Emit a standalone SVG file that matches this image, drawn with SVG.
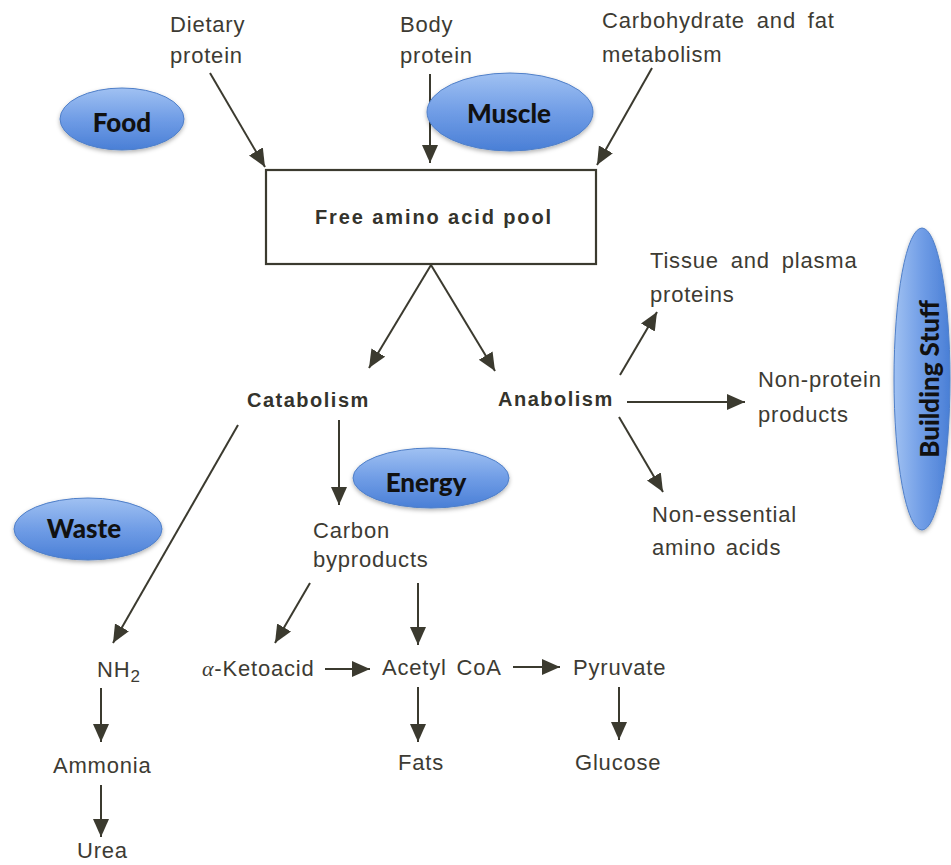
<svg xmlns="http://www.w3.org/2000/svg" width="951" height="865" viewBox="0 0 951 865">
<defs>
  <linearGradient id="gv" x1="0" y1="0" x2="0" y2="1">
    <stop offset="0" stop-color="#a0c1f2"/>
    <stop offset="0.5" stop-color="#709de6"/>
    <stop offset="1" stop-color="#4a7fd6"/>
  </linearGradient>
  <linearGradient id="gh" x1="0" y1="0" x2="1" y2="0">
    <stop offset="0" stop-color="#a0c1f2"/>
    <stop offset="0.5" stop-color="#709de6"/>
    <stop offset="1" stop-color="#4a7fd6"/>
  </linearGradient>
  <filter id="sh" x="-20%" y="-20%" width="140%" height="150%">
    <feDropShadow dx="0" dy="2" stdDeviation="2" flood-color="#000" flood-opacity="0.3"/>
  </filter>
  <marker id="ah" markerUnits="userSpaceOnUse" markerWidth="20" markerHeight="18" refX="18" refY="8" orient="auto">
    <path d="M0,0 L18,8 L0,16 z" fill="#3b3a2f"/>
  </marker>
  <style>
    .t { font-family: "Liberation Sans", Arial, sans-serif; font-size: 22px; letter-spacing: 0.8px; word-spacing: 3px; fill: #3d3b33; }
    .b { font-family: "Liberation Sans", Arial, sans-serif; font-size: 20px; font-weight: bold; letter-spacing: 1.5px; fill: #34332c; }
    .lbl { font-family: Lato, "Open Sans", sans-serif; font-size: 26px; font-weight: 900; fill: #111; text-anchor: middle; }
    .ell { fill: url(#gv); stroke: #4f7fc8; stroke-width: 1; filter: url(#sh); }
    .c line { stroke: #3b3a2f; stroke-width: 2; marker-end: url(#ah); }
  </style>
</defs>
<rect width="951" height="865" fill="#ffffff"/>

<g id="pool">
  <rect x="266" y="170" width="330" height="94" fill="#fff" stroke="#3b3a2f" stroke-width="2.2"/>
  <text class="b" x="434" y="224" text-anchor="middle" style="letter-spacing:1.9px">Free amino acid pool</text>
</g>

<g id="dietary"><text class="t" x="170" y="32">Dietary</text><text class="t" x="170" y="63">protein</text></g>
<g id="body"><text class="t" x="400" y="32">Body</text><text class="t" x="400" y="63">protein</text></g>
<g id="carb"><text class="t" x="602" y="28" style="word-spacing:5px">Carbohydrate and fat</text><text class="t" x="602" y="62">metabolism</text></g>

<g id="catabolism"><text class="b" x="247" y="407">Catabolism</text></g>
<g id="anabolism"><text class="b" x="498" y="406">Anabolism</text></g>

<g id="tissue"><text class="t" x="650" y="268" style="word-spacing:5px">Tissue and plasma</text><text class="t" x="650" y="302">proteins</text></g>
<g id="nonprotein"><text class="t" x="758" y="387">Non-protein</text><text class="t" x="758" y="422">products</text></g>
<g id="nonessential"><text class="t" x="652" y="522">Non-essential</text><text class="t" x="652" y="555">amino acids</text></g>

<g id="carbon"><text class="t" x="313" y="538">Carbon</text><text class="t" x="313" y="567">byproducts</text></g>
<g id="nh2"><text class="t" x="97" y="677">NH<tspan font-size="17" dy="5">2</tspan></text></g>
<g id="ketoacid"><text class="t" x="202" y="676"><tspan font-family="'Liberation Serif', serif" font-style="italic">α</tspan>-Ketoacid</text></g>
<g id="acetyl"><text class="t" x="382" y="675">Acetyl CoA</text></g>
<g id="pyruvate"><text class="t" x="573" y="675">Pyruvate</text></g>
<g id="fats"><text class="t" x="398" y="770">Fats</text></g>
<g id="glucose"><text class="t" x="575" y="770">Glucose</text></g>
<g id="ammonia"><text class="t" x="53" y="773">Ammonia</text></g>
<g id="urea"><text class="t" x="77" y="858">Urea</text></g>

<g id="connectors" class="c">
  <line x1="210" y1="73" x2="265" y2="167"/>
  <line x1="430" y1="74" x2="430" y2="163"/>
  <line x1="652" y1="68" x2="597" y2="165"/>
  <line x1="431" y1="265" x2="369" y2="368"/>
  <line x1="431" y1="265" x2="495" y2="371"/>
  <line x1="620" y1="375" x2="657" y2="312"/>
  <line x1="627" y1="402" x2="745" y2="402"/>
  <line x1="619" y1="417" x2="663" y2="492"/>
  <line x1="238" y1="425" x2="113" y2="643"/>
  <line x1="339" y1="420" x2="339" y2="505"/>
  <line x1="310" y1="583" x2="275" y2="643"/>
  <line x1="418" y1="583" x2="418" y2="645"/>
  <line x1="325" y1="669" x2="370" y2="669"/>
  <line x1="513" y1="667" x2="560" y2="667"/>
  <line x1="418" y1="687" x2="418" y2="742"/>
  <line x1="619" y1="687" x2="619" y2="740"/>
  <line x1="101" y1="688" x2="101" y2="742"/>
  <line x1="101" y1="785" x2="101" y2="837"/>
</g>

<g id="food"><ellipse class="ell" cx="122" cy="119" rx="62" ry="31"/><text class="lbl" x="122" y="132">Food</text></g>
<g id="muscle"><ellipse class="ell" cx="510" cy="112" rx="83" ry="39"/><text class="lbl" x="509" y="123">Muscle</text></g>
<g id="energy"><ellipse class="ell" cx="431" cy="478" rx="78" ry="30"/><text class="lbl" x="426" y="492">Energy</text></g>
<g id="waste"><ellipse class="ell" cx="88" cy="529" rx="74" ry="31"/><text class="lbl" x="84" y="538">Waste</text></g>
<g id="building"><ellipse class="ell" cx="922" cy="379" rx="28" ry="151" style="fill:url(#gh)"/><text class="lbl" transform="translate(939,379) rotate(-90)" x="0" y="0">Building Stuff</text></g>
</svg>
